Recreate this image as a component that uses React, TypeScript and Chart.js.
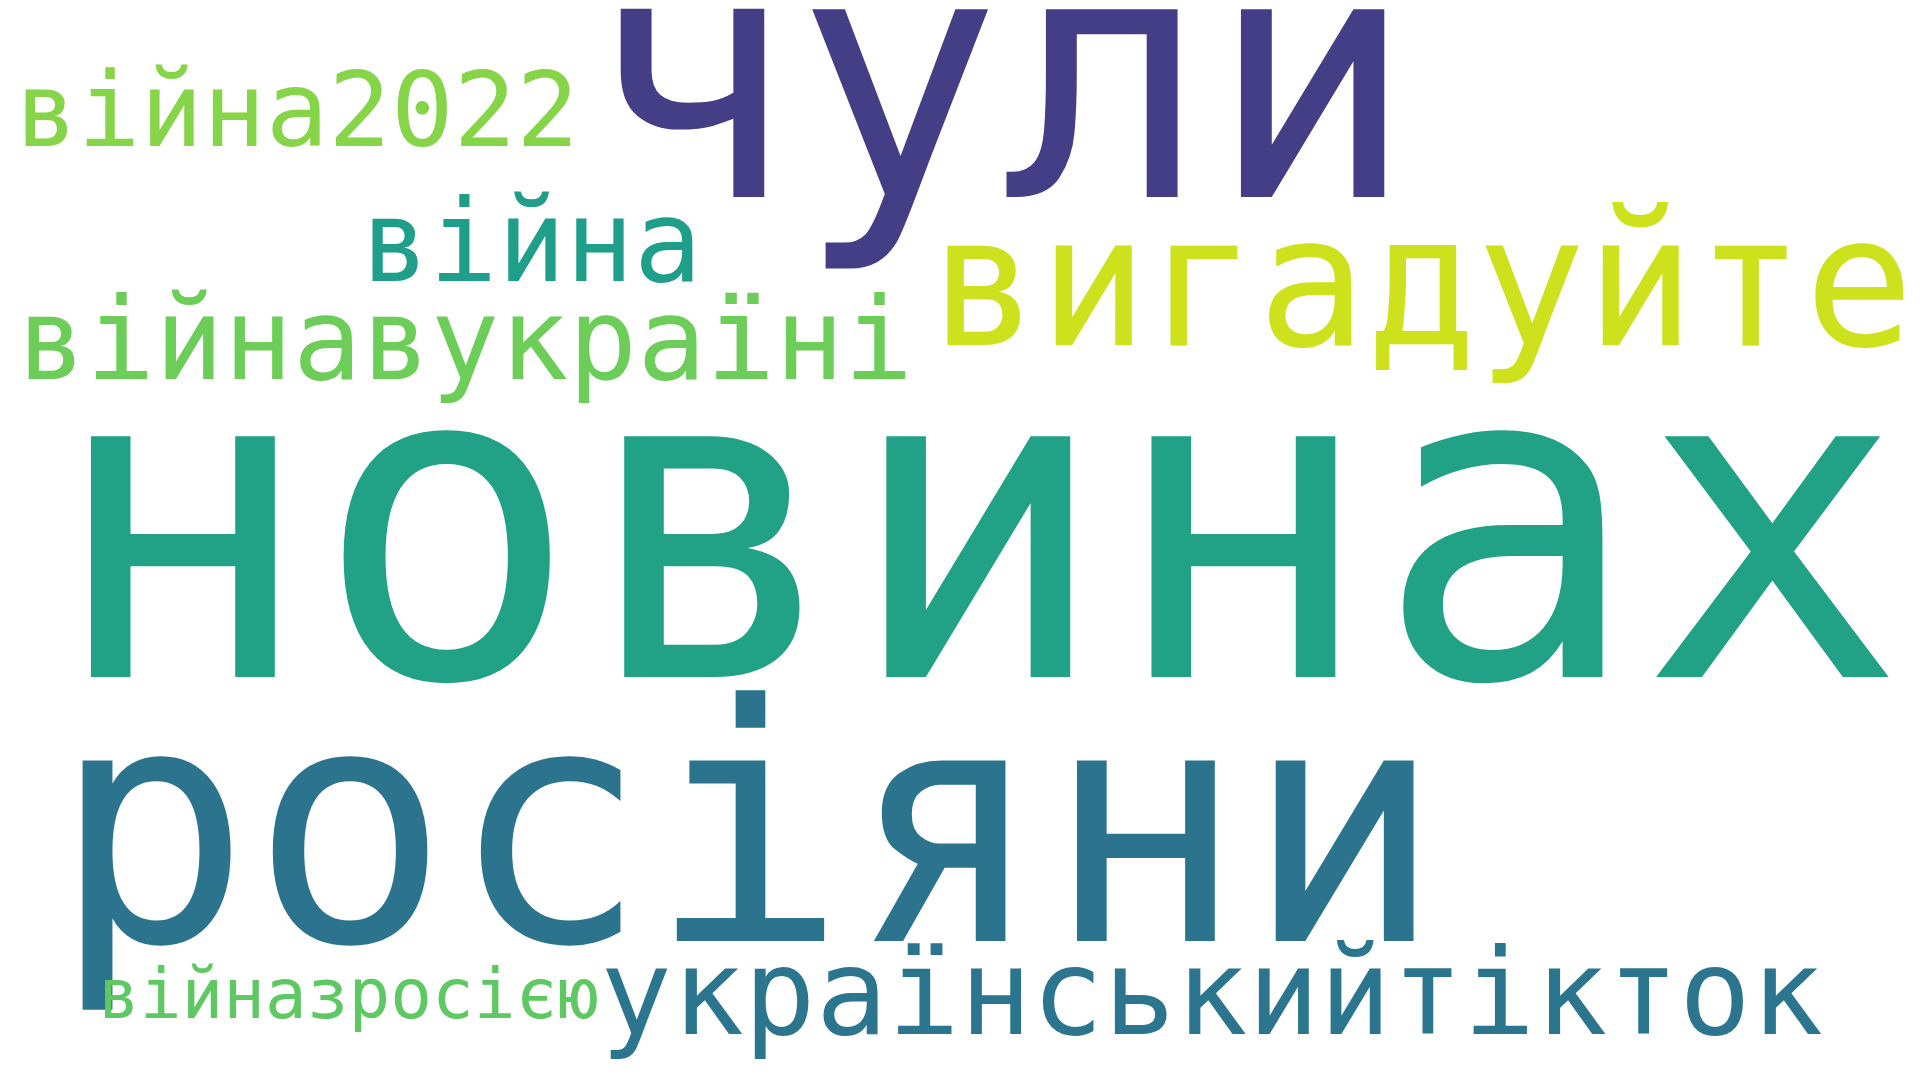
import { useEffect, useRef } from "react"
import { Chart, registerables } from "chart.js"

Chart.register(...registerables)

// Word cloud: each word has left x, baseline y, and rendered width (in 1920x1080 space)
const words = [
  "новинах",
  "росіяни",
  "чули",
  "вигадуйте",
  "українськийтікток",
  "війнавукраїні",
  "війна",
  "війна2022",
  "війназросією",
]
const wordX = [49, 52, 588, 929, 600, 17, 361, 15, 98]
const wordY = [677, 941, 197, 345, 1034, 379, 281, 146, 1018]
const wordWidth = [1856, 1391, 827, 985, 1223, 896, 341, 564, 501]
const wordColors = [
  "#21a186",
  "#2c738e",
  "#433e85",
  "#cde11d",
  "#2b758e",
  "#6dcd59",
  "#1f9e89",
  "#86d549",
  "#5ec962",
]

const FONT = '"DejaVu Sans Mono", "Liberation Mono", monospace'

const wordPlugin = {
  id: "wordcloud",
  afterDatasetsDraw(chart: Chart) {
    const { ctx, scales } = chart
    const xs = scales.x
    const ys = scales.y
    ctx.save()
    ctx.textBaseline = "alphabetic"
    ctx.textAlign = "left"
    words.forEach((w, i) => {
      ctx.font = `100px ${FONT}`
      const m = ctx.measureText(w).width
      const left = xs.getPixelForValue(wordX[i])
      const right = xs.getPixelForValue(wordX[i] + wordWidth[i])
      const size = (100 * (right - left)) / m
      ctx.font = `${size}px ${FONT}`
      ctx.fillStyle = wordColors[i]
      ctx.fillText(w, left, ys.getPixelForValue(wordY[i]))
    })
    ctx.restore()
  },
}

export default function App() {
  const chartRef = useRef<HTMLCanvasElement>(null)
  const chartInstance = useRef<Chart | null>(null)

  useEffect(() => {
    document.body.style.margin = "0"
    if (!chartRef.current) return
    const ctx = chartRef.current.getContext("2d")
    if (!ctx) return
    chartInstance.current = new Chart(ctx, {
      type: "scatter",
      data: {
        datasets: [
          {
            data: words.map((_, i) => ({ x: wordX[i], y: wordY[i] })),
            pointRadius: 0,
          },
        ],
      },
      options: {
        animation: false,
        responsive: false,
        layout: { padding: 0 },
        plugins: { legend: { display: false }, tooltip: { enabled: false } },
        scales: {
          x: { type: "linear", min: 0, max: 1920, display: false },
          y: { type: "linear", min: 0, max: 1080, reverse: true, display: false },
        },
      },
      plugins: [wordPlugin],
    })
    return () => {
      chartInstance.current?.destroy()
    }
  }, [])

  return (
    <div style={{ width: 1920, height: 1080, background: "#fff" }}>
      <canvas ref={chartRef} width={1920} height={1080}></canvas>
    </div>
  )
}
